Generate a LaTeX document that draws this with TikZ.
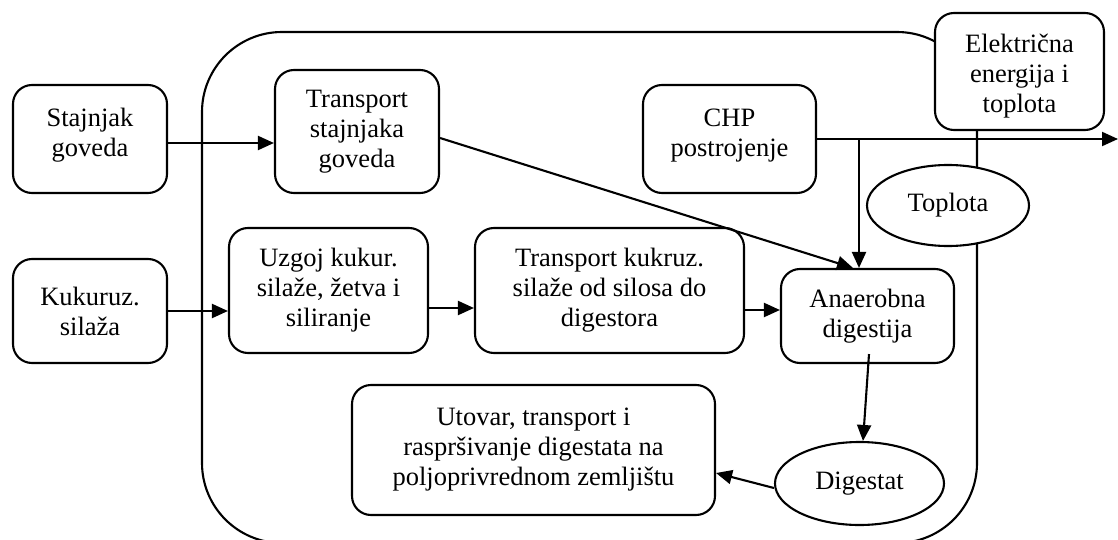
\documentclass[tikz,border=0pt]{standalone}
\usepackage{fontspec}
\setmainfont{Liberation Serif}
\usetikzlibrary{arrows.meta,calc,shapes.geometric}
\begin{document}
\begin{tikzpicture}[x=1pt,y=-1pt,
  every node/.style={font=\fontsize{26.5}{30}\selectfont, align=center, inner sep=0pt},
  procbox/.style={draw, fill=white, line width=2.1pt, rounded corners=19pt},
  flowell/.style={draw, fill=white, line width=2.1pt, ellipse},
  arr/.style={line width=2.1pt, -{Triangle[length=16pt,width=14pt]}},
  plain/.style={line width=2.1pt}]
\useasboundingbox (0,0) rectangle (1118,540);
\clip (0,0) rectangle (1118,540);

% system boundary
\draw[plain, rounded corners=80pt] (202,32) rectangle (977,543);

% process boxes
\node[procbox, minimum width=154pt, minimum height=108pt] (stajnjak) at (90,139) {\raisebox{3pt}[\height][\depth]{\begin{tabular}{@{}c@{}}Stajnjak\\goveda\end{tabular}}};
\node[procbox, minimum width=164pt, minimum height=123pt] (trst) at (357,131.5) {Transport\\stajnjaka\\goveda};
\node[procbox, minimum width=173pt, minimum height=108pt] (chp) at (729.5,139) {\raisebox{3pt}[\height][\depth]{\begin{tabular}{@{}c@{}}CHP\\postrojenje\end{tabular}}};
\node[procbox, minimum width=169pt, minimum height=117pt] (elek) at (1019.5,71.5) {\raisebox{-5pt}[\height][\depth]{\begin{tabular}{@{}c@{}}Električna\\energija i\\toplota\end{tabular}}};
\node[procbox, minimum width=154pt, minimum height=104pt] (kuk) at (90,311) {Kukuruz.\\silaža};
\node[procbox, minimum width=199pt, minimum height=125pt] (uzg) at (328.5,290.5) {Uzgoj kukur.\\silaže, žetva i\\siliranje};
\node[procbox, minimum width=269pt, minimum height=125pt] (trkuk) at (609.5,290.5) {Transport kukruz.\\silaže od silosa do\\digestora};
\node[procbox, minimum width=173pt, minimum height=94pt] (anae) at (867.5,316) {Anaerobna\\digestija};
\node[procbox, minimum width=363pt, minimum height=130pt] (utov) at (533.5,450) {Utovar, transport i\\raspršivanje digestata na\\poljoprivrednom zemljištu};

% products
\node[flowell, minimum width=162pt, minimum height=81pt] (toplota) at (948,205.5) {Toplota};
\node[flowell, minimum width=169pt, minimum height=83pt] (digestat) at (859.5,483.5) {Digestat};

% connectors
\coordinate (s1) at ([yshift=-4pt]stajnjak.east);
\draw[arr] (s1) -- (s1 -| trst.west);
\draw[arr] (kuk.east) -- (kuk.east -| uzg.west);
\coordinate (u1) at ([yshift=-17.5pt]uzg.east);
\draw[arr] (u1) -- (u1 -| trkuk.west);
\coordinate (t1) at ([yshift=-19.5pt]trkuk.east);
\draw[arr] (t1) -- (t1 -| anae.west);
\draw[arr] ([yshift=-6.5pt]trst.east) -- ([xshift=-14.5pt]anae.north);

\coordinate (out) at (1118,139);
\draw[arr] (chp.east) -- (out);
\coordinate (jn) at (859,139);
\draw[arr] (jn) -- (jn |- anae.north);

\draw[arr] ([shift={(1.5pt,10pt)}]anae.south) -- ([xshift=3.5pt]digestat.north);
\draw[arr] ([yshift=-4.5pt]digestat.west) -- ([yshift=-23pt]utov.east);
\end{tikzpicture}
\end{document}
